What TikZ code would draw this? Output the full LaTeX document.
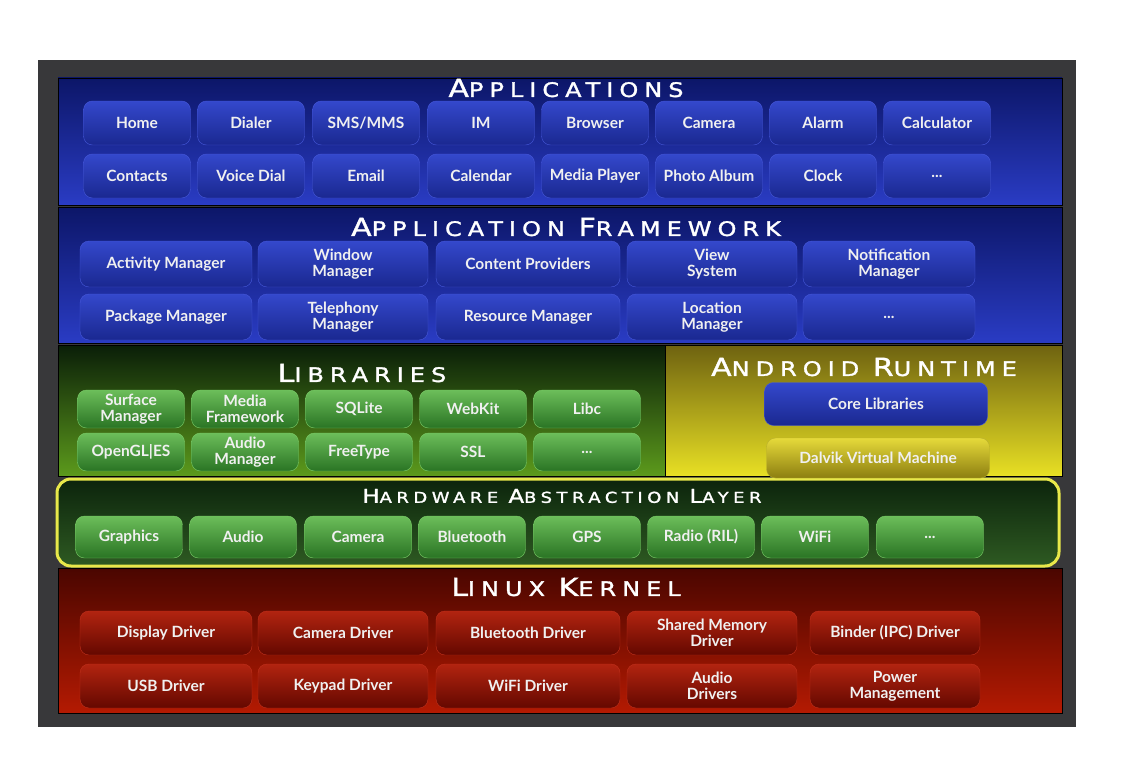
\documentclass[tikz,border=0pt]{standalone}
\usepackage{fontspec}
\newfontfamily\boxfont{Lato}
\newfontfamily\titlefont[LetterSpace=30,FakeStretch=1.2,FakeBold=1.5]{DejaVu Sans}
\newcommand{\capword}[3]{{\fontsize{#3}{#3}\selectfont #1}{\fontsize{\numexpr #3*4/5\relax}{#3}\selectfont #2}}

\definecolor{framegray}{HTML}{38383A}
\definecolor{appdark}{HTML}{0C1668}
\definecolor{applight}{HTML}{2A3CC4}
\definecolor{bluetop}{HTML}{3448CC}
\definecolor{bluebot}{HTML}{1A2890}
\definecolor{blueline}{HTML}{4658DA}
\definecolor{libdark}{HTML}{0A1E08}
\definecolor{liblight}{HTML}{5C9A1C}
\definecolor{greentop}{HTML}{6CBE5A}
\definecolor{greenbot}{HTML}{2A7424}
\definecolor{greenline}{HTML}{7ACC68}
\definecolor{rtdark}{HTML}{6E6210}
\definecolor{rtlight}{HTML}{E8E024}
\definecolor{dalviktop}{HTML}{E6DA3A}
\definecolor{dalvikbot}{HTML}{8C7E10}
\definecolor{haldark}{HTML}{0C240C}
\definecolor{hallight}{HTML}{2E5A22}
\definecolor{halline}{HTML}{E8E84A}
\definecolor{kerndark}{HTML}{4A0600}
\definecolor{kernlight}{HTML}{B41A02}
\definecolor{redtop}{HTML}{B22410}
\definecolor{redbot}{HTML}{640800}
\definecolor{redline}{HTML}{C0301C}

\begin{document}
\begin{tikzpicture}[x=1pt,y=-1pt,
  btn/.style={rounded corners=9pt,inner sep=0pt,align=center,text=white!94!black,
    font=\boxfont\bfseries\fontsize{15.5}{16}\selectfont,minimum height=44pt},
  bluebtn/.style={btn,top color=bluetop,bottom color=bluebot,draw=blueline},
  greenbtn/.style={btn,top color=greentop,bottom color=greenbot,draw=greenline},
  redbtn/.style={btn,top color=redtop,bottom color=redbot,draw=redline},
  layer/.style={text=white,font=\titlefont,inner sep=0pt}]
  \useasboundingbox (0,0) rectangle (1122,768);
  % frame and layers
  \fill[framegray] (38,60) rectangle (1076,727);
  \shade[top color=appdark,bottom color=applight,draw=black] (58,78) rectangle (1062,205);
  \shade[top color=appdark,bottom color=applight,draw=black] (58,207) rectangle (1062,343);
  \shade[top color=libdark,bottom color=liblight,draw=black] (58,345) rectangle (665,476);
  \shade[top color=rtdark,bottom color=rtlight,draw=black] (665,345) rectangle (1062,476);
  \shade[top color=kerndark,bottom color=kernlight,draw=black] (58,568) rectangle (1062,713);
  \shade[top color=haldark,bottom color=hallight,draw=halline,line width=3pt,rounded corners=14pt] (57,479) rectangle (1059,566);

  % Applications
  \node[layer] (apps) at (566,88) {\capword{A}{PPLICATIONS}{25}};
  \node[bluebtn,minimum width=107pt] (home) at (137,123) {Home};
  \node[bluebtn,minimum width=107pt] (dialer) at (251,123) {Dialer};
  \node[bluebtn,minimum width=107pt] (sms) at (366,123) {SMS/MMS};
  \node[bluebtn,minimum width=107pt] (im) at (481,123) {IM};
  \node[bluebtn,minimum width=107pt] (browser) at (595,123) {Browser};
  \node[bluebtn,minimum width=107pt] (camera) at (709,123) {Camera};
  \node[bluebtn,minimum width=107pt] (alarm) at (823,123) {Alarm};
  \node[bluebtn,minimum width=107pt] (calc) at (937,123) {Calculator};
  \node[bluebtn,minimum width=107pt] (contacts) at (137,176) {Contacts};
  \node[bluebtn,minimum width=107pt] (voicedial) at (251,176) {Voice Dial};
  \node[bluebtn,minimum width=107pt] (email) at (366,176) {Email};
  \node[bluebtn,minimum width=107pt] (calendar) at (481,176) {Calendar};
  \node[bluebtn,minimum width=107pt] (media) at (595,176) {Media Player};
  \node[bluebtn,minimum width=107pt] (photo) at (709,176) {Photo Album};
  \node[bluebtn,minimum width=107pt] (clock) at (823,176) {Clock};
  \node[bluebtn,minimum width=107pt] (appmore) at (937,176) {...};

  % Application Framework
  \node[layer] (framework) at (566,227) {\capword{A}{PPLICATION }{25}\capword{F}{RAMEWORK}{25}};
  \node[bluebtn,minimum width=172pt,minimum height=46pt] (activity) at (166,264) {Activity Manager};
  \node[bluebtn,minimum width=170pt,minimum height=46pt] (window) at (343,264) {Window\\Manager};
  \node[bluebtn,minimum width=184pt,minimum height=46pt] (content) at (528,264) {Content Providers};
  \node[bluebtn,minimum width=170pt,minimum height=46pt] (view) at (712,264) {View\\System};
  \node[bluebtn,minimum width=172pt,minimum height=46pt] (notify) at (889,264) {Notification\\Manager};
  \node[bluebtn,minimum width=172pt,minimum height=46pt] (package) at (166,317) {Package Manager};
  \node[bluebtn,minimum width=170pt,minimum height=46pt] (telephony) at (343,317) {Telephony\\Manager};
  \node[bluebtn,minimum width=184pt,minimum height=46pt] (resource) at (528,317) {Resource Manager};
  \node[bluebtn,minimum width=170pt,minimum height=46pt] (location) at (712,317) {Location\\Manager};
  \node[bluebtn,minimum width=172pt,minimum height=46pt] (fwmore) at (889,317) {...};

  % Libraries
  \node[layer] (libraries) at (362,373) {\capword{L}{IBRARIES}{25}};
  \node[greenbtn,minimum width=107pt,minimum height=38pt] (surface) at (131,409) {Surface\\Manager};
  \node[greenbtn,minimum width=107pt,minimum height=38pt] (mediafw) at (245,409) {Media\\Framework};
  \node[greenbtn,minimum width=107pt,minimum height=38pt] (sqlite) at (359,409) {SQLite};
  \node[greenbtn,minimum width=107pt,minimum height=38pt] (webkit) at (473,409) {WebKit};
  \node[greenbtn,minimum width=107pt,minimum height=38pt] (libc) at (587,409) {Libc};
  \node[greenbtn,minimum width=107pt,minimum height=38pt] (opengl) at (131,452) {OpenGL|ES};
  \node[greenbtn,minimum width=107pt,minimum height=38pt] (audiomgr) at (245,452) {Audio\\Manager};
  \node[greenbtn,minimum width=107pt,minimum height=38pt] (freetype) at (359,452) {FreeType};
  \node[greenbtn,minimum width=107pt,minimum height=38pt] (ssl) at (473,452) {SSL};
  \node[greenbtn,minimum width=107pt,minimum height=38pt] (libmore) at (587,452) {...};

  % Android Runtime
  \node[layer] (runtime) at (864,367) {\capword{A}{NDROID }{25}\capword{R}{UNTIME}{25}};
  \node[bluebtn,minimum width=223pt,minimum height=43pt] (core) at (876,404) {Core Libraries};
  \node[btn,top color=dalviktop,bottom color=dalvikbot,draw=dalviktop!80!black,
    minimum width=223pt,minimum height=40pt] (dalvik) at (878,458) {Dalvik Virtual Machine};

  % Hardware Abstraction Layer
  \node[layer] (hal) at (562,496) {\capword{H}{ARDWARE }{19}\capword{A}{BSTRACTION }{19}\capword{L}{AYER}{19}};
  \node[greenbtn,minimum width=107pt,minimum height=42pt] (graphics) at (129,537) {Graphics};
  \node[greenbtn,minimum width=107pt,minimum height=42pt] (audio) at (243,537) {Audio};
  \node[greenbtn,minimum width=107pt,minimum height=42pt] (halcam) at (358,537) {Camera};
  \node[greenbtn,minimum width=107pt,minimum height=42pt] (bluetooth) at (472,537) {Bluetooth};
  \node[greenbtn,minimum width=107pt,minimum height=42pt] (gps) at (587,537) {GPS};
  \node[greenbtn,minimum width=107pt,minimum height=42pt] (radio) at (701,537) {Radio (RIL)};
  \node[greenbtn,minimum width=107pt,minimum height=42pt] (wifi) at (815,537) {WiFi};
  \node[greenbtn,minimum width=107pt,minimum height=42pt] (halmore) at (930,537) {...};

  % Linux Kernel
  \node[layer] (kernel) at (566,587) {\capword{L}{INUX }{25}\capword{K}{ERNEL}{25}};
  \node[redbtn,minimum width=172pt] (display) at (166,633) {Display Driver};
  \node[redbtn,minimum width=170pt] (camdrv) at (343,633) {Camera Driver};
  \node[redbtn,minimum width=184pt] (btdrv) at (528,633) {Bluetooth Driver};
  \node[redbtn,minimum width=170pt] (shmem) at (712,633) {Shared Memory\\Driver};
  \node[redbtn,minimum width=170pt] (binder) at (895,633) {Binder (IPC) Driver};
  \node[redbtn,minimum width=172pt] (usb) at (166,686) {USB Driver};
  \node[redbtn,minimum width=170pt] (keypad) at (343,686) {Keypad Driver};
  \node[redbtn,minimum width=184pt] (wifidrv) at (528,686) {WiFi Driver};
  \node[redbtn,minimum width=170pt] (audiodrv) at (712,686) {Audio\\Drivers};
  \node[redbtn,minimum width=170pt] (power) at (895,686) {Power\\Management};
\end{tikzpicture}
\end{document}
